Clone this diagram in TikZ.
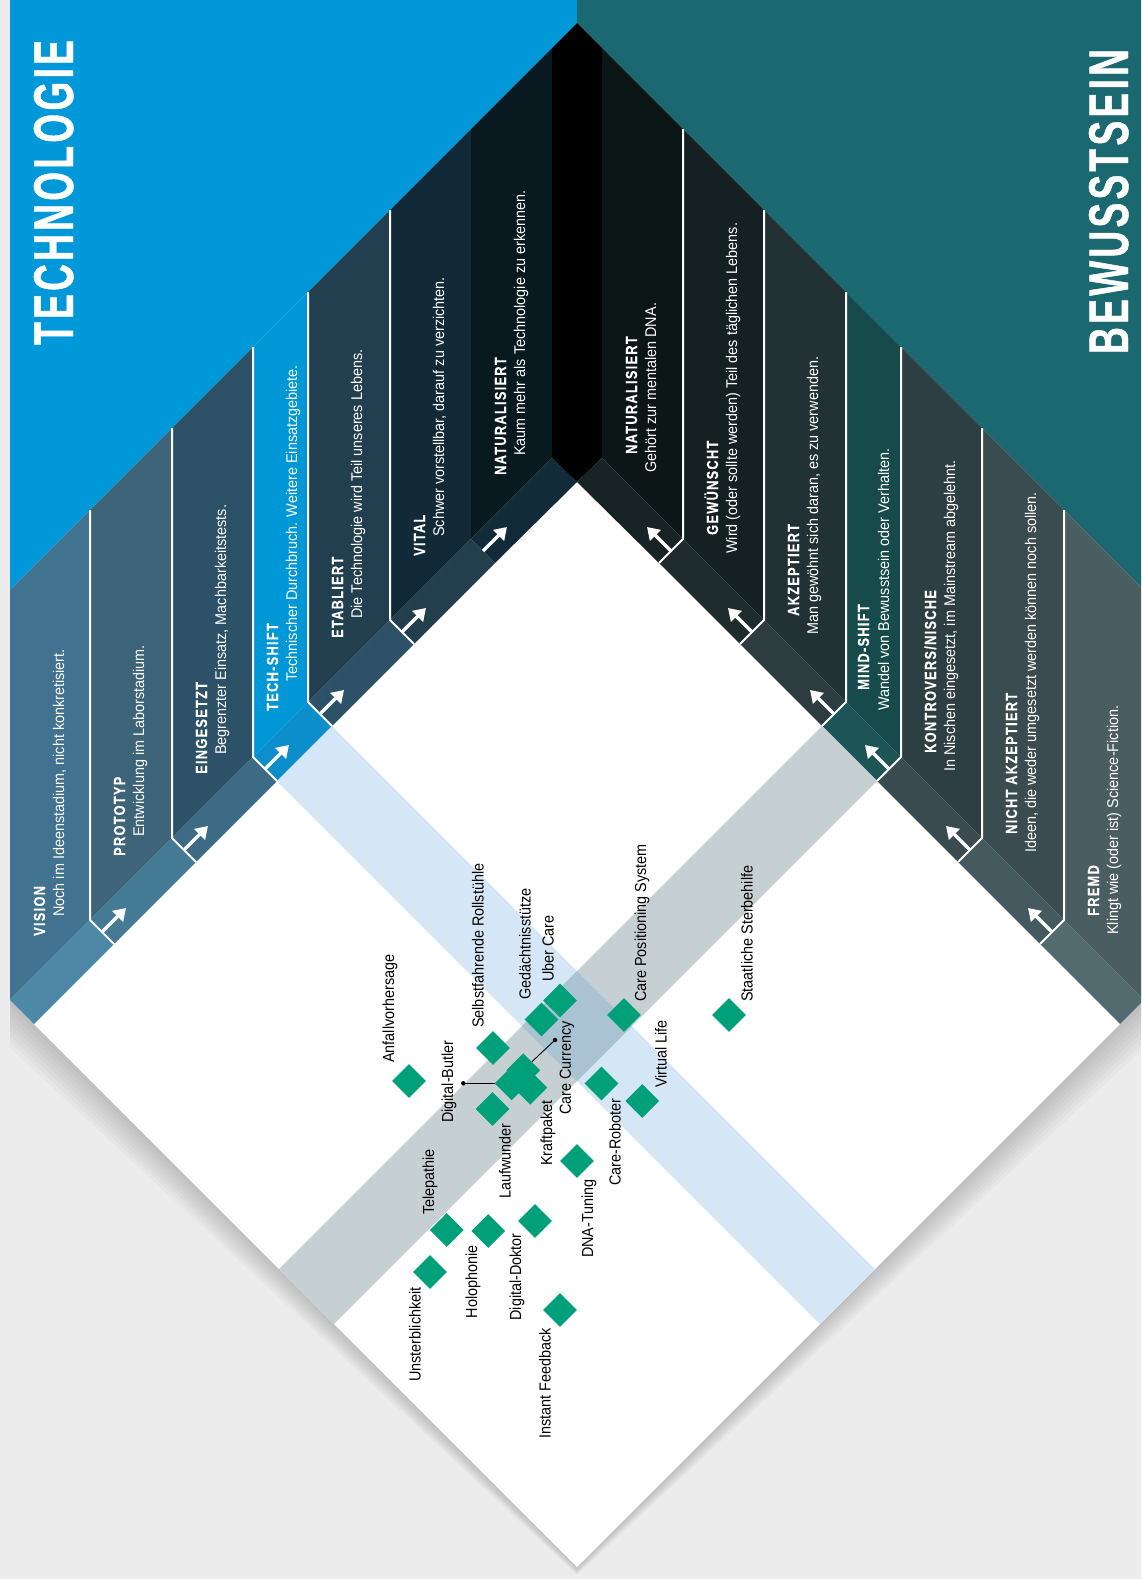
\documentclass[tikz,border=0pt]{standalone}
\usepackage{fontspec}
\usepackage{tikz}
\usetikzlibrary{shapes.geometric}
\usetikzlibrary{arrows.meta}

\newfontfamily\headfont{Liberation Sans}[FakeStretch=0.66,LetterSpace=6,FakeBold=0.8]
\newfontfamily\stagefont{Liberation Sans}[FakeStretch=0.8,LetterSpace=8,FakeBold=0.3]
\newfontfamily\descfont{Liberation Sans}[FakeStretch=0.93]
\newfontfamily\itemfont{Liberation Sans}[FakeStretch=0.9]

\definecolor{pagegray}{HTML}{ECECEC}
\definecolor{techblue}{HTML}{0098D9}
\definecolor{mindteal}{HTML}{1A6870}
\definecolor{itemgreen}{HTML}{00A17A}
\definecolor{bandblue}{HTML}{D5E7F7}
\definecolor{bandgray}{HTML}{C6D0D3}
\definecolor{bandmix}{HTML}{A9C3D3}
% stage columns (C) and their feet (F)
\definecolor{visionC}{HTML}{41728F}
\definecolor{visionF}{HTML}{4D88A6}
\definecolor{protoC}{HTML}{3D6479}
\definecolor{protoF}{HTML}{457A95}
\definecolor{einsC}{HTML}{2D5167}
\definecolor{einsF}{HTML}{3D6A84}
\definecolor{techC}{HTML}{0097D7}
\definecolor{techF}{HTML}{0B8ECB}
\definecolor{etabC}{HTML}{223F4F}
\definecolor{etabF}{HTML}{2D5167}
\definecolor{vitalC}{HTML}{122A37}
\definecolor{vitalF}{HTML}{233F4D}
\definecolor{natlC}{HTML}{08191F}
\definecolor{natlF}{HTML}{112B39}
\definecolor{natrC}{HTML}{0D1617}
\definecolor{natrF}{HTML}{172325}
\definecolor{gewC}{HTML}{152022}
\definecolor{gewF}{HTML}{1F2C2E}
\definecolor{akzC}{HTML}{223133}
\definecolor{akzF}{HTML}{2D3C3E}
\definecolor{mindC}{HTML}{164A4B}
\definecolor{mindF}{HTML}{1D5556}
\definecolor{kontC}{HTML}{2E3F43}
\definecolor{kontF}{HTML}{3A4B4F}
\definecolor{nichtC}{HTML}{3B4C50}
\definecolor{nichtF}{HTML}{455A5E}
\definecolor{fremdC}{HTML}{4A5D61}
\definecolor{fremdF}{HTML}{536B6F}

\tikzset{
    headtitle/.style={text=white, inner sep=0, rotate=90, anchor=base west,
        font=\headfont\bfseries\fontsize{56}{56}\selectfont},
    stagetitle/.style={text=white, inner sep=0, rotate=90, anchor=base west,
        font=\stagefont\bfseries\fontsize{16}{18}\selectfont},
    stagedesc/.style={text=white, inner sep=0, rotate=90, anchor=base west,
        font=\descfont\fontsize{15.5}{18}\selectfont},
    sepline/.style={white, line width=2pt},
    stagearrow/.style={white, line width=3.5pt, -{Triangle[width=15pt,length=12pt]}},
    itemmark/.style={diamond, fill=itemgreen, inner sep=0, minimum width=34pt, minimum height=34pt},
    itemlabel/.style={inner sep=0, rotate=90, font=\itemfont\fontsize{16}{18}\selectfont},
    itemdot/.style={circle, fill=black, inner sep=0, minimum size=4.5pt},
    pointer/.style={black, line width=0.9pt},
    pageshadow/.style={black, opacity=0.022}
}

\begin{document}
\begin{tikzpicture}[x=1pt, y=-1pt]
    \useasboundingbox (0,0) rectangle (1141,1579);
    \clip (0,0) rectangle (1141,1579);

    % Draw the page and its shadow
    \fill[pagegray] (0,0) rectangle (1141,1579);
    \fill[pageshadow] (10,900) -- (10,1006) -- (577,1568) -- (1144,1006) -- (1144,900) -- cycle;
    \fill[pageshadow] (10,900) -- (10,1012) -- (577,1569) -- (1144,1012) -- (1144,900) -- cycle;
    \fill[pageshadow] (10,900) -- (10,1018) -- (577,1570) -- (1144,1018) -- (1144,900) -- cycle;
    \fill[pageshadow] (10,900) -- (10,1024) -- (577,1571) -- (1144,1024) -- (1144,900) -- cycle;
    \fill[pageshadow] (10,900) -- (10,1030) -- (577,1572) -- (1144,1030) -- (1144,900) -- cycle;
    \fill[pageshadow] (10,900) -- (10,1036) -- (577,1573) -- (1144,1036) -- (1144,900) -- cycle;
    \fill[pageshadow] (10,900) -- (10,1042) -- (577,1574) -- (1144,1042) -- (1144,900) -- cycle;
    \fill[pageshadow] (10,900) -- (10,1048) -- (577,1575) -- (1144,1048) -- (1144,900) -- cycle;
    \fill[white] (10,0) -- (1144,0) -- (1144,1000) -- (577,1567) -- (10,1000) -- cycle;

    % Draw the two top fields
    \fill[techblue] (10,0) -- (577,0) -- (577,23) -- (10,590) -- cycle;
    \fill[mindteal] (577,0) -- (1144,0) -- (1144,590) -- (577,23) -- cycle;

    % Draw the technology stages
    \fill[visionC] (10,590) -- (90,510) -- (90,920) -- (10,1000) -- cycle;
    \fill[visionF] (10,1000) -- (90,920) -- (114,944) -- (34,1024) -- cycle;
    \fill[protoC] (90,510) -- (172,428) -- (172,838) -- (90,920) -- cycle;
    \fill[protoF] (90,920) -- (172,838) -- (196,862) -- (114,944) -- cycle;
    \fill[einsC] (172,428) -- (253,347) -- (253,757) -- (172,838) -- cycle;
    \fill[einsF] (172,838) -- (253,757) -- (277,781) -- (196,862) -- cycle;
    \fill[techC] (253,347) -- (308,292) -- (308,702) -- (253,757) -- cycle;
    \fill[techF] (253,757) -- (308,702) -- (332,726) -- (277,781) -- cycle;
    \fill[etabC] (308,292) -- (390,210) -- (390,620) -- (308,702) -- cycle;
    \fill[etabF] (308,702) -- (390,620) -- (414,644) -- (332,726) -- cycle;
    \fill[vitalC] (390,210) -- (471,129) -- (471,539) -- (390,620) -- cycle;
    \fill[vitalF] (390,620) -- (471,539) -- (495,563) -- (414,644) -- cycle;
    \fill[natlC] (471,129) -- (552,48) -- (552,458) -- (471,539) -- cycle;
    \fill[natlF] (471,539) -- (552,458) -- (577,482) -- (495,563) -- cycle;
    \fill[black] (552,48) -- (577,23) -- (602,48) -- (602,458) -- (577,482) -- (552,458) -- cycle;

    % Draw the consciousness stages
    \fill[natrC] (602,48) -- (683,129) -- (683,539) -- (602,458) -- cycle;
    \fill[natrF] (602,458) -- (683,539) -- (659,563) -- (577,482) -- cycle;
    \fill[gewC] (683,129) -- (764,210) -- (764,620) -- (683,539) -- cycle;
    \fill[gewF] (683,539) -- (764,620) -- (740,644) -- (659,563) -- cycle;
    \fill[akzC] (764,210) -- (846,292) -- (846,702) -- (764,620) -- cycle;
    \fill[akzF] (764,620) -- (846,702) -- (822,726) -- (740,644) -- cycle;
    \fill[mindC] (846,292) -- (901,347) -- (901,757) -- (846,702) -- cycle;
    \fill[mindF] (846,702) -- (901,757) -- (877,781) -- (822,726) -- cycle;
    \fill[kontC] (901,347) -- (982,428) -- (982,838) -- (901,757) -- cycle;
    \fill[kontF] (901,757) -- (982,838) -- (958,862) -- (877,781) -- cycle;
    \fill[nichtC] (982,428) -- (1064,510) -- (1064,920) -- (982,838) -- cycle;
    \fill[nichtF] (982,838) -- (1064,920) -- (1040,944) -- (958,862) -- cycle;
    \fill[fremdC] (1064,510) -- (1144,590) -- (1144,1000) -- (1064,920) -- cycle;
    \fill[fremdF] (1064,920) -- (1144,1000) -- (1120,1024) -- (1040,944) -- cycle;

    % Draw the two shift bands
    \fill[bandblue] (277,781) -- (332,726) -- (875,1269) -- (820,1324) -- cycle;
    \fill[bandgray] (822,726) -- (877,781) -- (334,1324) -- (279,1269) -- cycle;
    \fill[bandmix] (522,1026) -- (577,971) -- (632,1026) -- (577,1081) -- cycle;

    % Draw the chevron lines
    \draw[sepline] (90,510) -- (90,920) -- (114,944);
    \draw[sepline] (172,428) -- (172,838) -- (196,862);
    \draw[sepline] (253,347) -- (253,757) -- (277,781);
    \draw[sepline] (308,292) -- (308,702) -- (332,726);
    \draw[sepline] (390,210) -- (390,620) -- (414,644);
    \draw[sepline] (683,129) -- (683,539) -- (659,563);
    \draw[sepline] (764,210) -- (764,620) -- (740,644);
    \draw[sepline] (846,292) -- (846,702) -- (822,726);
    \draw[sepline] (901,347) -- (901,757) -- (877,781);
    \draw[sepline] (982,428) -- (982,838) -- (958,862);
    \draw[sepline] (1064,510) -- (1064,920) -- (1040,944);

    % Draw the arrows
    \draw[stagearrow] (102,932) -- (126,908);
    \draw[stagearrow] (184,850) -- (208,826);
    \draw[stagearrow] (265,769) -- (289,745);
    \draw[stagearrow] (320,714) -- (344,690);
    \draw[stagearrow] (402,632) -- (426,608);
    \draw[stagearrow] (483,551) -- (507,527);
    \draw[stagearrow] (671,551) -- (647,527);
    \draw[stagearrow] (752,632) -- (728,608);
    \draw[stagearrow] (834,714) -- (810,690);
    \draw[stagearrow] (889,769) -- (865,745);
    \draw[stagearrow] (970,850) -- (946,826);
    \draw[stagearrow] (1052,932) -- (1028,908);

    % Headings
    \node[headtitle] (technologie) at (73,345) {TECHNOLOGIE};
    \node[headtitle] (bewusstsein) at (1128,354) {BEWUSSTSEIN};

    % Technology stage texts
    \node[stagetitle] (vision) at (45,936) {VISION};
    \node[stagedesc] (vision-d) at (64,917) {Noch im Ideenstadium, nicht konkretisiert.};
    \node[stagetitle] (prototyp) at (125,856) {PROTOTYP};
    \node[stagedesc] (prototyp-d) at (144,837) {Entwicklung im Laborstadium.};
    \node[stagetitle] (eingesetzt) at (207,774) {EINGESETZT};
    \node[stagedesc] (eingesetzt-d) at (226,755) {Begrenzter Einsatz, Machbarkeitstests.};
    \node[stagetitle] (techshift) at (278,711) {TECH-SHIFT};
    \node[stagedesc] (techshift-d) at (297,682) {Technischer Durchbruch. Weitere Einsatzgebiete.};
    \node[stagetitle] (etabliert) at (343,638) {ETABLIERT};
    \node[stagedesc] (etabliert-d) at (362,619) {Die Technologie wird Teil unseres Lebens.};
    \node[stagetitle] (vital) at (425,556) {VITAL};
    \node[stagedesc] (vital-d) at (444,537) {Schwer vorstellbar, darauf zu verzichten.};
    \node[stagetitle] (natl) at (506,475) {NATURALISIERT};
    \node[stagedesc] (natl-d) at (525,456) {Kaum mehr als Technologie zu erkennen.};

    % Consciousness stage texts
    \node[stagetitle] (natr) at (637,454) {NATURALISIERT};
    \node[stagedesc] (natr-d) at (656,473) {Gehört zur mentalen DNA.};
    \node[stagetitle] (gewuenscht) at (718,535) {GEWÜNSCHT};
    \node[stagedesc] (gewuenscht-d) at (737,554) {Wird (oder sollte werden) Teil des täglichen Lebens.};
    \node[stagetitle] (akzeptiert) at (799,616) {AKZEPTIERT};
    \node[stagedesc] (akzeptiert-d) at (818,635) {Man gewöhnt sich daran, es zu verwenden.};
    \node[stagetitle] (mindshift) at (869,690) {MIND-SHIFT};
    \node[stagedesc] (mindshift-d) at (889,711) {Wandel von Bewusstsein oder Verhalten.};
    \node[stagetitle] (kontrovers) at (936,753) {KONTROVERS/NISCHE};
    \node[stagedesc] (kontrovers-d) at (955,772) {In Nischen eingesetzt, im Mainstream abgelehnt.};
    \node[stagetitle] (nichtakz) at (1017,834) {NICHT AKZEPTIERT};
    \node[stagedesc] (nichtakz-d) at (1036,853) {Ideen, die weder umgesetzt werden können noch sollen.};
    \node[stagetitle] (fremd) at (1099,916) {FREMD};
    \node[stagedesc] (fremd-d) at (1118,935) {Klingt wie (oder ist) Science-Fiction.};

    % Draw the items
    \node[itemmark] (anfall) at (409,1081) {};
    \node[itemmark] (rollstuhl) at (493,1048) {};
    \node[itemmark] (gedaechtnis) at (541.5,1019.5) {};
    \node[itemmark] (ubercare) at (560,1000.5) {};
    \node[itemmark] (positioning) at (624,1015) {};
    \node[itemmark] (sterbehilfe) at (729,1015) {};
    \node[itemmark] (butler) at (511.7,1083.3) {};
    \node[itemmark] (currency) at (523.3,1070.3) {};
    \node[itemmark] (kraftpaket) at (530.3,1087.7) {};
    \node[itemmark] (laufwunder) at (492.5,1109) {};
    \node[itemmark] (virtual) at (642.3,1101) {};
    \node[itemmark] (roboter) at (601.5,1083.5) {};
    \node[itemmark] (dnatuning) at (577,1161) {};
    \node[itemmark] (telepathie) at (446.7,1230) {};
    \node[itemmark] (holophonie) at (488.3,1231) {};
    \node[itemmark] (doktor) at (535,1221) {};
    \node[itemmark] (unsterblich) at (430,1272) {};
    \node[itemmark] (feedback) at (560,1310) {};

    % Item labels
    \node[itemlabel, anchor=west] (anfall-l) at (390,1063) {Anfallvorhersage};
    \node[itemlabel, anchor=west] (rollstuhl-l) at (478,1028) {Selbstfahrende Rollstühle};
    \node[itemlabel, anchor=west] (gedaechtnis-l) at (525,1000) {Gedächtnisstütze};
    \node[itemlabel, anchor=west] (ubercare-l) at (548,982) {Uber Care};
    \node[itemlabel, anchor=west] (positioning-l) at (642,1002) {Care Positioning System};
    \node[itemlabel, anchor=west] (sterbehilfe-l) at (747,1002) {Staatliche Sterbehilfe};
    \node[itemlabel, anchor=west] (butler-l) at (449,1123) {Digital-Butler};
    \node[itemlabel, anchor=west] (currency-l) at (567,1115) {Care Currency};
    \node[itemlabel, anchor=east] (kraftpaket-l) at (548,1100) {Kraftpaket};
    \node[itemlabel, anchor=east] (laufwunder-l) at (505,1123) {Laufwunder};
    \node[itemlabel, anchor=west] (virtual-l) at (661,1088) {Virtual Life};
    \node[itemlabel, anchor=east] (roboter-l) at (615,1098) {Care-Roboter};
    \node[itemlabel, anchor=east] (dnatuning-l) at (589,1179) {DNA-Tuning};
    \node[itemlabel, anchor=west] (telepathie-l) at (430,1215) {Telepathie};
    \node[itemlabel, anchor=east] (holophonie-l) at (473,1245) {Holophonie};
    \node[itemlabel, anchor=east] (doktor-l) at (517,1233) {Digital-Doktor};
    \node[itemlabel, anchor=east] (unsterblich-l) at (415,1287) {Unsterblichkeit};
    \node[itemlabel, anchor=east] (feedback-l) at (545,1328) {Instant Feedback};

    % Pointers of the crowded items
    \node[itemdot] (butler-dot) at (463.3,1083.3) {};
    \node[itemdot] (currency-dot) at (555,1040) {};
    \draw[pointer] (butler-dot.center) -- (butler.west);
    \draw[pointer] (currency-dot.center) -- (currency.north east);
\end{tikzpicture}
\end{document}
